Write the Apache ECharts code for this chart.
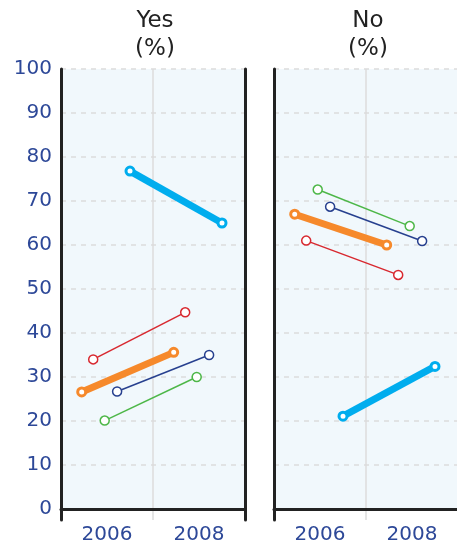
<!DOCTYPE html>
<html>
<head>
<meta charset="utf-8">
<script src="https://cdn.jsdelivr.net/npm/echarts@6/dist/echarts.min.js"></script>
<style>
html,body{margin:0;padding:0;background:#fff;}
#chart{width:457px;height:546px;}
</style>
</head>
<body>
<div id="chart"></div>
<script>
// ---- data ----
const years = [2006, 2008];
const xTickLabels = [2006, 2008];
const panelTitles = ['Yes\n(%)', 'No\n(%)'];
const groupNames = ['Group A', 'Group B', 'Group C', 'Group D', 'Group E'];
// horizontal dodge of each group around the year (in years)
const groupOffsets = [-0.55, -0.3, -0.05, 0.22, 0.5];

const yesOrange = [26.6, 35.6];
const yesRed    = [34, 44.7];
const yesGreen  = [20.1, 30];
const yesBlue   = [26.7, 35];
const yesCyan   = [76.8, 65];

const noOrange = [67, 60];
const noRed    = [61, 53.2];
const noGreen  = [72.6, 64.3];
const noBlue   = [68.7, 60.9];
const noCyan   = [21.1, 32.4];

const yesValues = [yesOrange, yesRed, yesGreen, yesBlue, yesCyan];
const noValues  = [noOrange, noRed, noGreen, noBlue, noCyan];

// ---- styles ----
const groupColors = ['#f6892b', '#d8282f', '#4db748', '#27408f', '#00adee'];
const lineWidths  = [7, 1.5, 1.5, 1.5, 7];
const symbolSizes = [8, 9, 9, 9, 8];
const borderWidths = [3, 1.5, 1.5, 1.5, 3];
const drawOrder = [1, 2, 3, 0, 4];

const xMin = 2005, xMax = 2009, yMin = -2.5, yMax = 100;
const labelColor = '#2d4898';
const axisColor = '#222';
const bgColor = '#f1f8fc';
const gridColor = '#dcdcdc';
const font = 'DejaVu Sans';

const gridHeight = 451;
const grids = [
  {left: 61, top: 69, width: 184, height: gridHeight, outerBoundsMode: 'none'},
  {left: 274, top: 69, width: 184, height: gridHeight, outerBoundsMode: 'none'}
];
// place the x axis line at value 0 of the y axis
const xAxisOffset = -((0 - yMin) / (yMax - yMin)) * gridHeight;
const titleCenters = [155, 368];

const xAxes = [], yAxes = [], series = [], titles = [];
[yesValues, noValues].forEach((panel, p) => {
  titles.push({
    text: panelTitles[p], left: titleCenters[p], top: 7, textAlign: 'center', padding: 0,
    textStyle: {fontFamily: font, fontSize: 23, fontWeight: 'normal', color: '#222', lineHeight: 28}
  });
  xAxes.push({
    type: 'value', gridIndex: p, min: xMin, max: xMax, interval: 1,
    position: 'bottom', offset: xAxisOffset,
    axisLine: {show: true, onZero: false, lineStyle: {color: axisColor, width: 3}},
    axisTick: {show: false},
    splitLine: {show: false},
    axisLabel: {
      margin: 16, fontSize: 20, fontFamily: font, color: labelColor,
      formatter: v => xTickLabels.includes(v) ? String(v) : ''
    }
  });
  const yl = yAxes.length;
  yAxes.push({
    type: 'value', gridIndex: p, position: 'left', min: yMin, max: yMax, splitNumber: 10,
    axisLine: {show: true, onZero: false, lineStyle: {color: axisColor, width: 3}},
    axisTick: {show: false},
    splitLine: {show: true, showMinLine: false, lineStyle: {color: gridColor, type: [5, 5], width: 1.5}},
    axisLabel: {
      show: p === 0, margin: 9, fontSize: 20, fontFamily: font, color: labelColor,
      showMinLabel: false,
      formatter: v => v < 0 ? '' : String(v)
    }
  });
  yAxes.push({
    type: 'value', gridIndex: p, position: 'right', min: yMin, max: yMax, splitNumber: 10,
    axisLine: {show: true, onZero: false, lineStyle: {color: axisColor, width: 3}},
    axisTick: {show: false}, splitLine: {show: false}, axisLabel: {show: false}
  });
  // background + 2007 reference line
  series.push({
    type: 'line', xAxisIndex: p, yAxisIndex: yl, data: [], z: -2, silent: true,
    markArea: {
      silent: true, z: -2, itemStyle: {color: bgColor},
      data: [[{xAxis: xMin, yAxis: 0}, {xAxis: xMax, yAxis: yMax}]]
    },
    markLine: {
      silent: true, z: -1, symbol: 'none', label: {show: false},
      lineStyle: {color: gridColor, type: 'solid', width: 1.5},
      data: [{xAxis: (years[0] + years[1]) / 2}]
    }
  });
  drawOrder.forEach(g => {
    const vals = panel[g];
    series.push({
      type: 'line', name: groupNames[g], xAxisIndex: p, yAxisIndex: yl,
      data: years.map((yr, i) => [yr + groupOffsets[g], vals[i]]),
      symbol: 'circle', symbolSize: symbolSizes[g], showSymbol: true,
      lineStyle: {color: groupColors[g], width: lineWidths[g]},
      itemStyle: {color: '#fff', borderColor: groupColors[g], borderWidth: borderWidths[g]},
      emphasis: {disabled: true}, animation: false, clip: false
    });
  });
});

const chart = echarts.init(document.getElementById('chart'), null, {renderer: 'canvas'});
chart.setOption({
  animation: false,
  title: titles,
  grid: grids,
  xAxis: xAxes,
  yAxis: yAxes,
  series: series
});
</script>
</body>
</html>
